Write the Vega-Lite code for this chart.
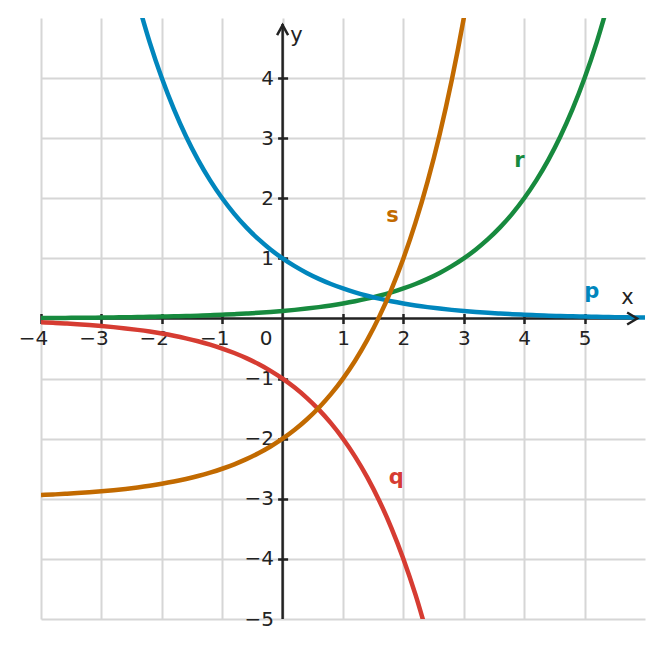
{
  "$schema": "https://vega.github.io/schema/vega-lite/v6.json",
  "width": 604,
  "height": 601,
  "autosize": "none",
  "padding": {"left": 41, "top": 18, "right": 16, "bottom": 29},
  "background": "white",
  "config": {
    "view": {"stroke": null},
    "font": "DejaVu Sans",
    "axis": {
      "labelFont": "DejaVu Sans",
      "labelFontSize": 20,
      "labelColor": "#222222",
      "labelFlush": false,
      "gridColor": "#d6d6d6",
      "gridWidth": 2,
      "tickColor": "#222222",
      "tickWidth": 2.5,
      "tickSize": 10,
      "domain": false,
      "title": null
    }
  },
  "data": {"values": [{"x": 0, "y": 0}]},
  "datasets": {
    "curves": [
      {"f": "r", "x": -4.0, "y": 0.0078}, {"f": "r", "x": -3.8, "y": 0.009}, {"f": "r", "x": -3.6, "y": 0.0103},
      {"f": "r", "x": -3.4, "y": 0.0118}, {"f": "r", "x": -3.2, "y": 0.0136}, {"f": "r", "x": -3.0, "y": 0.0156},
      {"f": "r", "x": -2.8, "y": 0.018}, {"f": "r", "x": -2.6, "y": 0.0206}, {"f": "r", "x": -2.4, "y": 0.0237},
      {"f": "r", "x": -2.2, "y": 0.0272}, {"f": "r", "x": -2.0, "y": 0.0313}, {"f": "r", "x": -1.8, "y": 0.0359},
      {"f": "r", "x": -1.6, "y": 0.0412}, {"f": "r", "x": -1.4, "y": 0.0474}, {"f": "r", "x": -1.2, "y": 0.0544},
      {"f": "r", "x": -1.0, "y": 0.0625}, {"f": "r", "x": -0.8, "y": 0.0718}, {"f": "r", "x": -0.6, "y": 0.0825},
      {"f": "r", "x": -0.4, "y": 0.0947}, {"f": "r", "x": -0.2, "y": 0.1088}, {"f": "r", "x": 0.0, "y": 0.125},
      {"f": "r", "x": 0.2, "y": 0.1436}, {"f": "r", "x": 0.4, "y": 0.1649}, {"f": "r", "x": 0.6, "y": 0.1895},
      {"f": "r", "x": 0.8, "y": 0.2176}, {"f": "r", "x": 1.0, "y": 0.25}, {"f": "r", "x": 1.2, "y": 0.2872},
      {"f": "r", "x": 1.4, "y": 0.3299}, {"f": "r", "x": 1.6, "y": 0.3789}, {"f": "r", "x": 1.8, "y": 0.4353},
      {"f": "r", "x": 2.0, "y": 0.5}, {"f": "r", "x": 2.2, "y": 0.5743}, {"f": "r", "x": 2.4, "y": 0.6598},
      {"f": "r", "x": 2.6, "y": 0.7579}, {"f": "r", "x": 2.8, "y": 0.8706}, {"f": "r", "x": 3.0, "y": 1.0},
      {"f": "r", "x": 3.2, "y": 1.1487}, {"f": "r", "x": 3.4, "y": 1.3195}, {"f": "r", "x": 3.6, "y": 1.5157},
      {"f": "r", "x": 3.8, "y": 1.7411}, {"f": "r", "x": 4.0, "y": 2.0}, {"f": "r", "x": 4.2, "y": 2.2974},
      {"f": "r", "x": 4.4, "y": 2.639}, {"f": "r", "x": 4.6, "y": 3.0314}, {"f": "r", "x": 4.8, "y": 3.4822},
      {"f": "r", "x": 5.0, "y": 4.0}, {"f": "r", "x": 5.2, "y": 4.5948}, {"f": "r", "x": 5.4, "y": 5.278},

      {"f": "p", "x": -2.4, "y": 5.278}, {"f": "p", "x": -2.2, "y": 4.5948}, {"f": "p", "x": -2.0, "y": 4.0},
      {"f": "p", "x": -1.8, "y": 3.4822}, {"f": "p", "x": -1.6, "y": 3.0314}, {"f": "p", "x": -1.4, "y": 2.639},
      {"f": "p", "x": -1.2, "y": 2.2974}, {"f": "p", "x": -1.0, "y": 2.0}, {"f": "p", "x": -0.8, "y": 1.7411},
      {"f": "p", "x": -0.6, "y": 1.5157}, {"f": "p", "x": -0.4, "y": 1.3195}, {"f": "p", "x": -0.2, "y": 1.1487},
      {"f": "p", "x": 0.0, "y": 1.0}, {"f": "p", "x": 0.2, "y": 0.8706}, {"f": "p", "x": 0.4, "y": 0.7579},
      {"f": "p", "x": 0.6, "y": 0.6598}, {"f": "p", "x": 0.8, "y": 0.5743}, {"f": "p", "x": 1.0, "y": 0.5},
      {"f": "p", "x": 1.2, "y": 0.4353}, {"f": "p", "x": 1.4, "y": 0.3789}, {"f": "p", "x": 1.6, "y": 0.3299},
      {"f": "p", "x": 1.8, "y": 0.2872}, {"f": "p", "x": 2.0, "y": 0.25}, {"f": "p", "x": 2.2, "y": 0.2176},
      {"f": "p", "x": 2.4, "y": 0.1895}, {"f": "p", "x": 2.6, "y": 0.1649}, {"f": "p", "x": 2.8, "y": 0.1436},
      {"f": "p", "x": 3.0, "y": 0.125}, {"f": "p", "x": 3.2, "y": 0.1088}, {"f": "p", "x": 3.4, "y": 0.0947},
      {"f": "p", "x": 3.6, "y": 0.0825}, {"f": "p", "x": 3.8, "y": 0.0718}, {"f": "p", "x": 4.0, "y": 0.0625},
      {"f": "p", "x": 4.2, "y": 0.0544}, {"f": "p", "x": 4.4, "y": 0.0474}, {"f": "p", "x": 4.6, "y": 0.0412},
      {"f": "p", "x": 4.8, "y": 0.0359}, {"f": "p", "x": 5.0, "y": 0.0313}, {"f": "p", "x": 5.2, "y": 0.0272},
      {"f": "p", "x": 5.4, "y": 0.0237}, {"f": "p", "x": 5.6, "y": 0.0206}, {"f": "p", "x": 5.8, "y": 0.018},
      {"f": "p", "x": 6.0, "y": 0.0156},

      {"f": "q", "x": -4.0, "y": -0.0625}, {"f": "q", "x": -3.8, "y": -0.0718}, {"f": "q", "x": -3.6, "y": -0.0825},
      {"f": "q", "x": -3.4, "y": -0.0947}, {"f": "q", "x": -3.2, "y": -0.1088}, {"f": "q", "x": -3.0, "y": -0.125},
      {"f": "q", "x": -2.8, "y": -0.1436}, {"f": "q", "x": -2.6, "y": -0.1649}, {"f": "q", "x": -2.4, "y": -0.1895},
      {"f": "q", "x": -2.2, "y": -0.2176}, {"f": "q", "x": -2.0, "y": -0.25}, {"f": "q", "x": -1.8, "y": -0.2872},
      {"f": "q", "x": -1.6, "y": -0.3299}, {"f": "q", "x": -1.4, "y": -0.3789}, {"f": "q", "x": -1.2, "y": -0.4353},
      {"f": "q", "x": -1.0, "y": -0.5}, {"f": "q", "x": -0.8, "y": -0.5743}, {"f": "q", "x": -0.6, "y": -0.6598},
      {"f": "q", "x": -0.4, "y": -0.7579}, {"f": "q", "x": -0.2, "y": -0.8706}, {"f": "q", "x": 0.0, "y": -1.0},
      {"f": "q", "x": 0.2, "y": -1.1487}, {"f": "q", "x": 0.4, "y": -1.3195}, {"f": "q", "x": 0.6, "y": -1.5157},
      {"f": "q", "x": 0.8, "y": -1.7411}, {"f": "q", "x": 1.0, "y": -2.0}, {"f": "q", "x": 1.2, "y": -2.2974},
      {"f": "q", "x": 1.4, "y": -2.639}, {"f": "q", "x": 1.6, "y": -3.0314}, {"f": "q", "x": 1.8, "y": -3.4822},
      {"f": "q", "x": 2.0, "y": -4.0}, {"f": "q", "x": 2.2, "y": -4.5948}, {"f": "q", "x": 2.4, "y": -5.278},

      {"f": "s", "x": -4.0, "y": -2.9375}, {"f": "s", "x": -3.8, "y": -2.9282}, {"f": "s", "x": -3.6, "y": -2.9175},
      {"f": "s", "x": -3.4, "y": -2.9053}, {"f": "s", "x": -3.2, "y": -2.8912}, {"f": "s", "x": -3.0, "y": -2.875},
      {"f": "s", "x": -2.8, "y": -2.8564}, {"f": "s", "x": -2.6, "y": -2.8351}, {"f": "s", "x": -2.4, "y": -2.8105},
      {"f": "s", "x": -2.2, "y": -2.7824}, {"f": "s", "x": -2.0, "y": -2.75}, {"f": "s", "x": -1.8, "y": -2.7128},
      {"f": "s", "x": -1.6, "y": -2.6701}, {"f": "s", "x": -1.4, "y": -2.6211}, {"f": "s", "x": -1.2, "y": -2.5647},
      {"f": "s", "x": -1.0, "y": -2.5}, {"f": "s", "x": -0.8, "y": -2.4257}, {"f": "s", "x": -0.6, "y": -2.3402},
      {"f": "s", "x": -0.4, "y": -2.2421}, {"f": "s", "x": -0.2, "y": -2.1294}, {"f": "s", "x": 0.0, "y": -2.0},
      {"f": "s", "x": 0.2, "y": -1.8513}, {"f": "s", "x": 0.4, "y": -1.6805}, {"f": "s", "x": 0.6, "y": -1.4843},
      {"f": "s", "x": 0.8, "y": -1.2589}, {"f": "s", "x": 1.0, "y": -1.0}, {"f": "s", "x": 1.2, "y": -0.7026},
      {"f": "s", "x": 1.4, "y": -0.361}, {"f": "s", "x": 1.6, "y": 0.0314}, {"f": "s", "x": 1.8, "y": 0.4822},
      {"f": "s", "x": 2.0, "y": 1.0}, {"f": "s", "x": 2.2, "y": 1.5948}, {"f": "s", "x": 2.4, "y": 2.278},
      {"f": "s", "x": 2.6, "y": 3.0629}, {"f": "s", "x": 2.8, "y": 3.9644}, {"f": "s", "x": 3.0, "y": 5.0},
      {"f": "s", "x": 3.2, "y": 6.1896}
    ],
    "names": [
      {"f": "p", "x": 5.12, "y": 0.44},
      {"f": "r", "x": 3.92, "y": 2.62},
      {"f": "s", "x": 1.82, "y": 1.71},
      {"f": "q", "x": 1.88, "y": -2.65}
    ]
  },
  "encoding": {
    "x": {
      "field": "x",
      "type": "quantitative",
      "scale": {"domain": [-4, 6], "nice": false, "zero": false},
      "axis": {
        "orient": "bottom",
        "offset": -305.5,
        "values": [-4, -3, -2, -1, 0, 1, 2, 3, 4, 5],
        "labelExpr": "replace(datum.label, '-', '\u2212')",
        "labelFontSize": 20,
        "labelFlush": false,
        "labelPadding": 5,
        "labelOffset": {"condition": [{"test": "datum.value == 0", "value": -17}, {"test": "datum.value < 0", "value": -8}], "value": 0},
        "tickOpacity": {"condition": {"test": "datum.value == 0", "value": 0}, "value": 1}
      }
    },
    "y": {
      "field": "y",
      "type": "quantitative",
      "scale": {"domain": [-5, 5], "nice": false, "zero": false},
      "axis": {
        "orient": "left",
        "offset": -246.6,
        "values": [-5, -4, -3, -2, -1, 1, 2, 3, 4],
        "labelExpr": "replace(datum.label, '-', '\u2212')",
        "labelFontSize": 20,
        "labelFlush": false,
        "labelPadding": 4,
        "tickOpacity": {"condition": {"test": "datum.value == -5", "value": 0}, "value": 1}
      }
    }
  },
  "layer": [
    {
      "mark": {"type": "rule", "color": "#222222", "strokeWidth": 2.5},
      "encoding": {
        "x": {"datum": -4},
        "x2": {"datum": 5.87},
        "y": {"datum": 0}
      }
    },
    {
      "mark": {"type": "rule", "color": "#222222", "strokeWidth": 2.5},
      "encoding": {
        "x": {"datum": 0},
        "y": {"datum": -5},
        "y2": {"datum": 4.9}
      }
    },
    {
      "data": {"name": "curves"},
      "mark": {"type": "line", "strokeWidth": 4.5, "clip": true, "interpolate": "monotone"},
      "encoding": {
        "color": {
          "field": "f",
          "type": "nominal",
          "scale": {"domain": ["p", "q", "r", "s"], "range": ["#0086bd", "#d63c32", "#178a3e", "#c26a00"]},
          "legend": null
        },
        "detail": {"field": "f"},
        "order": {"field": "x", "type": "quantitative"}
      }
    },
    {
      "mark": {"type": "point", "shape": "M-1,-0.6L0,0L-1,0.6", "size": 400, "filled": false, "stroke": "#222222", "strokeWidth": 2.5, "opacity": 1},
      "encoding": {
        "x": {"datum": 5.87},
        "y": {"datum": 0}
      }
    },
    {
      "mark": {"type": "point", "shape": "M-0.55,1L0,0L0.55,1", "size": 400, "filled": false, "stroke": "#222222", "strokeWidth": 2.5, "opacity": 1},
      "encoding": {
        "x": {"datum": 0},
        "y": {"datum": 4.88}
      }
    },
    {
      "mark": {"type": "text", "text": "x", "fontSize": 21, "color": "#222222", "align": "center", "baseline": "middle"},
      "encoding": {
        "x": {"datum": 5.71},
        "y": {"datum": 0.34}
      }
    },
    {
      "mark": {"type": "text", "text": "y", "fontSize": 21, "color": "#222222", "align": "center", "baseline": "middle"},
      "encoding": {
        "x": {"datum": 0.23},
        "y": {"datum": 4.7}
      }
    },
    {
      "data": {"name": "names"},
      "mark": {"type": "text", "fontSize": 21, "fontWeight": "bold", "align": "center", "baseline": "middle"},
      "encoding": {
        "text": {"field": "f"},
        "color": {"field": "f", "type": "nominal", "legend": null}
      }
    }
  ]
}
